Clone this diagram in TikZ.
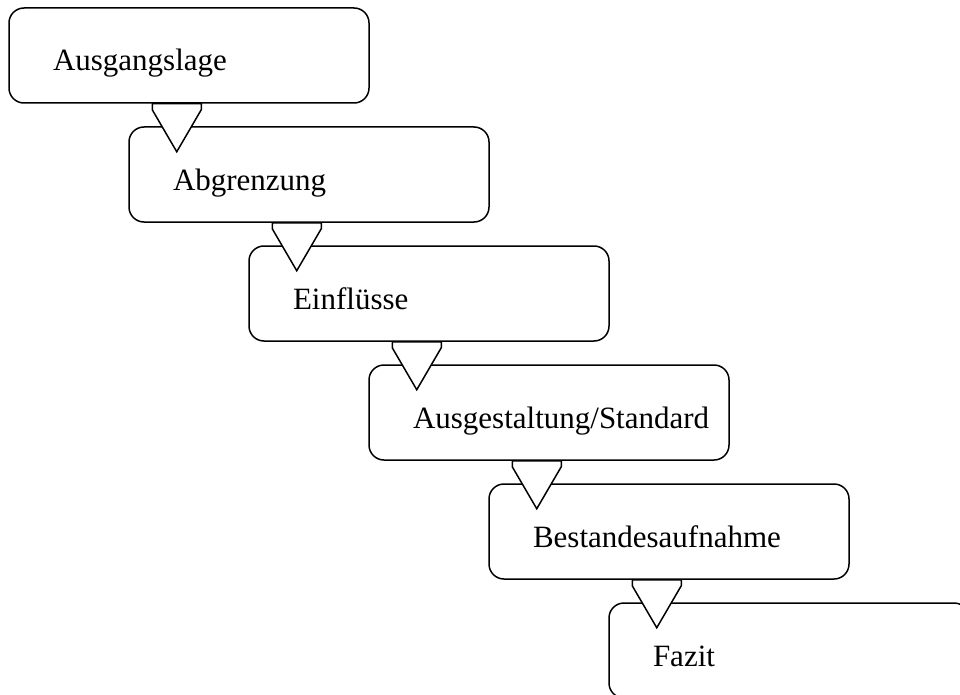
\documentclass[tikz,border=0pt]{standalone}
\usepackage{fontspec}
\setmainfont{Liberation Serif}
\usetikzlibrary{positioning}

\begin{document}
\begin{tikzpicture}[x=1pt, y=-1pt, node distance={119pt and 120pt}, on grid,
	phase/.style = {draw, line width=1.5pt, rounded corners=15pt, minimum width=360pt, minimum height=95pt,
		text width=272pt, inner xsep=44pt, align=left, text height=39pt, text depth=8pt,
		font=\fontsize{31}{37}\selectfont},
	pointer/.style = {draw, fill=white, line width=1.5pt}]
	\useasboundingbox (0,0) rectangle (960,695);
	\clip (0,0) rectangle (960,695);
	\node[phase] (lage) at (189,55.5) {Ausgangslage};
	\node[phase] [below right=of lage] (abgr) {Abgrenzung};
	\node[phase] [below right=of abgr] (einfl) {Einflüsse};
	\node[phase] [below right=of einfl] (ausg) {Ausgestaltung/Standard};
	\node[phase] [below right=of ausg] (best) {Bestandesaufnahme};
	\node[phase] [below right=of best] (fazit) {Fazit};
	% Pfeile zwischen den Schritten
	\draw[pointer] ([xshift=144pt]lage.south west) -- ++(49,0) -- ++(0,6) -- ++(-24.5,42) -- ++(-24.5,-42) -- cycle;
	\draw[pointer] ([xshift=144pt]abgr.south west) -- ++(49,0) -- ++(0,6) -- ++(-24.5,42) -- ++(-24.5,-42) -- cycle;
	\draw[pointer] ([xshift=144pt]einfl.south west) -- ++(49,0) -- ++(0,6) -- ++(-24.5,42) -- ++(-24.5,-42) -- cycle;
	\draw[pointer] ([xshift=144pt]ausg.south west) -- ++(49,0) -- ++(0,6) -- ++(-24.5,42) -- ++(-24.5,-42) -- cycle;
	\draw[pointer] ([xshift=144pt]best.south west) -- ++(49,0) -- ++(0,6) -- ++(-24.5,42) -- ++(-24.5,-42) -- cycle;
\end{tikzpicture}
\end{document}
